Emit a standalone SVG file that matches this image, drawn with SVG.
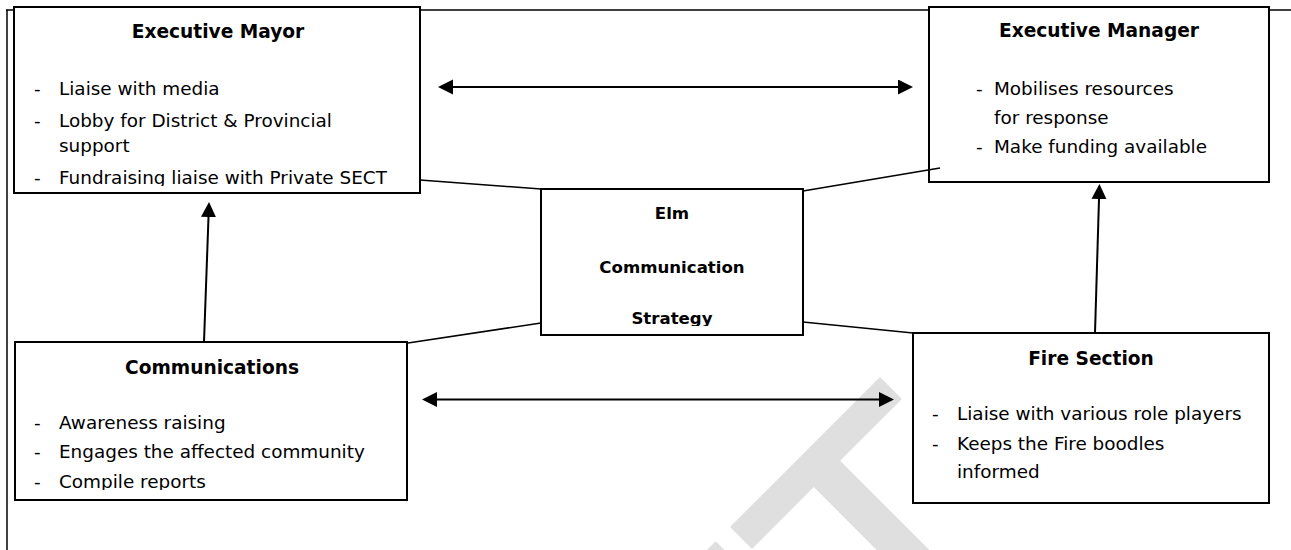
<svg xmlns="http://www.w3.org/2000/svg" width="1291" height="550" viewBox="0 0 1291 550">
<style>
.box{fill:#fff;stroke:#000;stroke-width:2}
.frame{fill:none;stroke:#000;stroke-width:1.5}
.t{font-family:"DejaVu Sans",Verdana,sans-serif;font-size:18.4px;fill:#000}
.h{font-family:"DejaVu Sans",Verdana,sans-serif;font-size:18.6px;font-weight:bold;fill:#000;text-anchor:middle}
.c{font-family:"DejaVu Sans",Verdana,sans-serif;font-size:16.6px;font-weight:bold;fill:#000;text-anchor:middle}
.ln{fill:none;stroke:#000;stroke-width:1.6}
.ar{fill:none;stroke:#000;stroke-width:2}
.wm{font-family:"Liberation Sans",Arial,sans-serif;font-size:370px;fill:#dfdfdf;stroke:#dfdfdf;stroke-width:3;stroke-linejoin:round;text-anchor:end}
</style>
<defs>
<marker id="ah" markerUnits="userSpaceOnUse" markerWidth="16" markerHeight="16" refX="0" refY="7.5" orient="auto-start-reverse">
<path d="M0,0 L15,7.5 L0,15 z" fill="#000"/>
</marker>
<clipPath id="clipMayor"><rect x="14" y="7" width="406" height="179"/></clipPath>
<clipPath id="clipCenter"><rect x="541" y="189" width="262" height="137"/></clipPath>
<clipPath id="clipComm"><rect x="15" y="342" width="392" height="148"/></clipPath>
</defs>
<g id="watermark">
<text class="wm" transform="translate(1066,553) rotate(-45)" x="0" y="0">FT</text>
</g>
<g id="frame">
<line class="frame" x1="7" y1="10" x2="7" y2="550"/>
<line class="frame" x1="6" y1="10" x2="1291" y2="10"/>
</g>
<g id="executive-mayor">
<rect class="box" x="14" y="7" width="406" height="186"/>
<text class="h" x="218" y="38">Executive Mayor</text>
<g clip-path="url(#clipMayor)">
<text class="t" x="34" y="95">-</text><text class="t" x="59" y="95">Liaise with media</text>
<text class="t" x="34" y="127">-</text><text class="t" x="59" y="127">Lobby for District &amp; Provincial</text>
<text class="t" x="59" y="152">support</text>
<text class="t" x="34" y="184">-</text><text class="t" x="59" y="184">Fundraising liaise with Private SECT</text>
</g>
</g>
<g id="executive-manager">
<rect class="box" x="929" y="7" width="340" height="175"/>
<text class="h" x="1099" y="37">Executive Manager</text>
<text class="t" x="976" y="95">-</text><text class="t" x="994" y="95">Mobilises resources</text>
<text class="t" x="994" y="124">for response</text>
<text class="t" x="976" y="153">-</text><text class="t" x="994" y="153">Make funding available</text>
</g>
<g id="elm-strategy">
<rect class="box" x="541" y="189" width="262" height="146"/>
<g clip-path="url(#clipCenter)">
<text class="c" x="672" y="219">Elm</text>
<text class="c" x="672" y="273">Communication</text>
<text class="c" x="672" y="324">Strategy</text>
</g>
</g>
<g id="communications">
<rect class="box" x="15" y="342" width="392" height="158"/>
<text class="h" x="212" y="374">Communications</text>
<g clip-path="url(#clipComm)">
<text class="t" x="34" y="429">-</text><text class="t" x="59" y="429">Awareness raising</text>
<text class="t" x="34" y="458">-</text><text class="t" x="59" y="458">Engages the affected community</text>
<text class="t" x="34" y="488">-</text><text class="t" x="59" y="488">Compile reports</text>
</g>
</g>
<g id="fire-section">
<rect class="box" x="913" y="333" width="356" height="170"/>
<text class="h" x="1091" y="365">Fire Section</text>
<text class="t" x="932" y="420">-</text><text class="t" x="957" y="420">Liaise with various role players</text>
<text class="t" x="932" y="450">-</text><text class="t" x="957" y="450">Keeps the Fire boodles</text>
<text class="t" x="957" y="478">informed</text>
</g>
<g id="connectors">
<line class="ln" x1="420" y1="180" x2="541" y2="189"/>
<line class="ln" x1="803" y1="191" x2="940" y2="168"/>
<line class="ln" x1="541" y1="323" x2="408" y2="343"/>
<line class="ln" x1="803" y1="322" x2="913" y2="333"/>
<line class="ar" x1="453" y1="87" x2="898" y2="87" marker-start="url(#ah)" marker-end="url(#ah)"/>
<line class="ar" x1="437" y1="399.5" x2="879" y2="399.5" marker-start="url(#ah)" marker-end="url(#ah)"/>
<line class="ar" x1="204" y1="342" x2="208.5" y2="217" marker-end="url(#ah)"/>
<line class="ar" x1="1095" y1="333" x2="1099" y2="199" marker-end="url(#ah)"/>
</g>
</svg>
